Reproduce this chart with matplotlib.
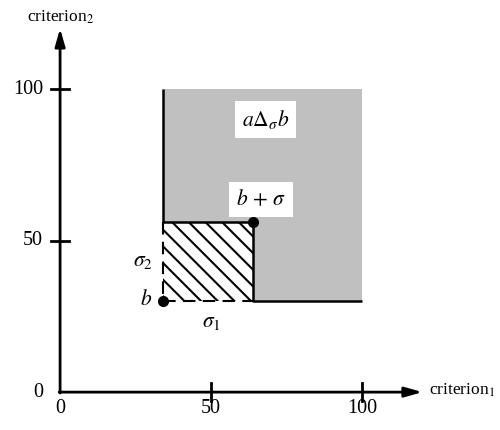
import matplotlib.pyplot as plt
from matplotlib.patches import Polygon, Rectangle

plt.rcParams['font.family'] = ['Liberation Serif', 'DejaVu Serif']
plt.rcParams['mathtext.fontset'] = 'stix'
plt.rcParams['hatch.linewidth'] = 1.5

# data
b = (34, 30)            # point b
sigma = (30, 26)        # sigma_1, sigma_2
top = 100               # upper bound of criteria
ticks = [50, 100]
tick_labels = ['0', '50', '100']
axis_end = 120

bs = (b[0] + sigma[0], b[1] + sigma[1])   # b + sigma

fig = plt.figure(figsize=(5, 4.3), dpi=100)
ax = fig.add_axes([0, 0, 1, 1])
ax.set_xlim(-19.9, 145.7)
ax.set_ylim(-12.5, 129.4)
ax.axis('off')

# gray dominance region (L shape)
gray_pts = [(b[0], bs[1]), (b[0], top), (top, top), (top, b[1]),
            (bs[0], b[1]), (bs[0], bs[1])]
ax.add_patch(Polygon(gray_pts, closed=True, facecolor='#c0c0c0', edgecolor='none'))

# hatched box between b and b + sigma
ax.add_patch(Rectangle(b, sigma[0], sigma[1], facecolor='white',
                       edgecolor='black', hatch='\\\\', linewidth=0))

# boundary lines
ax.plot([b[0], b[0]], [bs[1], top], color='black', lw=1.8, solid_capstyle='butt')
ax.plot([b[0], bs[0], bs[0], top], [bs[1], bs[1], b[1], b[1]],
        color='black', lw=1.8, solid_capstyle='butt')
ax.plot([b[0], b[0], bs[0]], [bs[1], b[1], b[1]], color='black', lw=1.5,
        dashes=(6, 3.5))

# points
ax.plot([b[0], bs[0]], [b[1], bs[1]], 'o', color='black', markersize=7)

# axes with arrows
arrow = dict(arrowstyle='-|>,head_length=0.7,head_width=0.2', lw=2,
             color='black', shrinkA=0, shrinkB=0, mutation_scale=15)
ax.annotate('', xy=(axis_end, 0), xytext=(-0.3, 0), arrowprops=arrow)
ax.annotate('', xy=(0, axis_end), xytext=(0, -0.3), arrowprops=arrow)

for t in ticks:
    ax.plot([t, t], [-3, 3], color='black', lw=2)
    ax.plot([-3, 3], [t, t], color='black', lw=2)

for t, lab in zip([0] + ticks, tick_labels):
    ax.text(t, -5.4, lab, ha='center', va='center', fontsize=14.5)
    ax.text(-5.6, t, lab, ha='right', va='center', fontsize=14.5)

ax.text(0, 123.8, r'criterion$_2$', ha='center', va='center', fontsize=12.5)
ax.text(122.3, 0.5, r'criterion$_1$', ha='left', va='center', fontsize=12.5)

box = dict(facecolor='white', edgecolor='none', pad=5)
ax.text(68, 90, r'$a\Delta_\sigma b$', ha='center', va='center', fontsize=15.5, bbox=box)
ax.text(66.5, 63.5, r'$b\,+\,\sigma$', ha='center', va='center', fontsize=15.5, bbox=box)
ax.text(27.5, 43, r'$\sigma_2$', ha='center', va='center', fontsize=15.5)
ax.text(28.5, 30.4, r'$b$', ha='center', va='center', fontsize=15.5)
ax.text(50, 23, r'$\sigma_1$', ha='center', va='center', fontsize=15.5)

fig.savefig('out.png', dpi=100)
